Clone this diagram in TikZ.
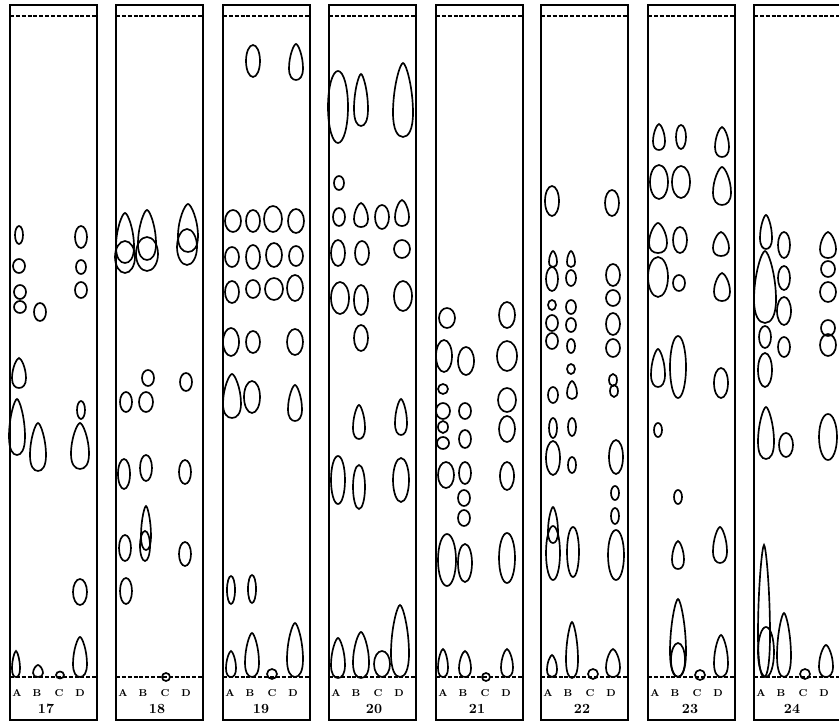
\documentclass[tikz,border=0pt]{standalone}
\begin{document}
\begin{tikzpicture}[x=0.75pt,y=-0.75pt,
  stripbox/.style={line width=1.5pt},
  dashline/.style={line width=1.3pt,dash pattern=on 3pt off 1.4pt},
  spotline/.style={line width=1.25pt},
  lanelab/.style={font=\fontsize{7.5}{8}\selectfont\bfseries,inner sep=0pt},
  numlab/.style={font=\fontsize{10.5}{11}\selectfont\bfseries,inner sep=0pt}]
\useasboundingbox (0,0) rectangle (839,723);
\newcommand\myell[4]{\draw[spotline] (#1,#2) ellipse [x radius=#3, y radius=#4];}
\newcommand\mydrop[4]{\draw[spotline] (#1,{#2-#4}) .. controls ({#1+0.3*#3},{#2-#4}) and ({#1+#3},{#2-0.35*#4}) .. ({#1+#3},{#2+0.35*#4}) .. controls ({#1+#3},{#2+0.8*#4}) and ({#1+0.55*#3},{#2+#4}) .. (#1,{#2+#4}) .. controls ({#1-0.55*#3},{#2+#4}) and ({#1-#3},{#2+0.8*#4}) .. ({#1-#3},{#2+0.35*#4}) .. controls ({#1-#3},{#2-0.35*#4}) and ({#1-0.3*#3},{#2-#4}) .. cycle;}
% strips
\foreach \l/\n/\o in {10/17/36,116/18/41,223/19/38,329/20/45,436/21/41,541/22/41,648/23/42,754/24/38}{
  \draw[stripbox] (\l,5) rectangle ({\l+87},720);
  \draw[dashline] (\l,16) -- ({\l+87},16);
  \draw[dashline] (\l,677) -- ({\l+87},677);
  \node[lanelab] (a\n) at ({\l+7},693) {A};
  \node[lanelab] (b\n) at ({\l+27},693) {B};
  \node[lanelab] (c\n) at ({\l+49},693) {C};
  \node[lanelab] (d\n) at ({\l+70},693) {D};
  \node[numlab] (n\n) at ({\l+\o},709) {\n};
}
% strip 17
\myell{19}{235}{4}{9}
\myell{19}{266}{6}{7}
\myell{20}{292}{6}{7}
\myell{20}{307}{6}{6}
\myell{40}{312}{6}{9}
\myell{81}{237}{6}{11}
\myell{81}{267}{5}{7}
\myell{81}{290}{6}{8}
\mydrop{19}{373}{7}{15}
\mydrop{17}{427}{8}{28}
\mydrop{38}{447}{8}{24}
\myell{81}{410}{4}{9}
\mydrop{80}{446}{9}{23}
\myell{80}{592}{7}{13}
\mydrop{16}{664}{4}{13}
\mydrop{38}{671}{5}{6}
\myell{60}{675}{4}{3.5}
\mydrop{80}{657}{7}{20}
% strip 18
\mydrop{125}{238}{9}{25}
\myell{125}{257}{10}{16}
\mydrop{147}{235}{9}{25}
\myell{147}{254}{11}{17}
\mydrop{188}{228}{10}{24}
\myell{187}{247}{10}{18}
\myell{148}{378}{6}{8}
\myell{146}{402}{7}{10}
\myell{126}{402}{6}{10}
\myell{186}{382}{6}{9}
\myell{124}{474}{6}{15}
\myell{146}{468}{6}{13}
\myell{185}{472}{6}{12}
\mydrop{146}{528}{5}{22}
\myell{145}{546}{5}{15}
\myell{125}{548}{6}{13}
\myell{185}{554}{6}{12}
\myell{126}{591}{6}{13}
\myell{166}{677}{4}{4}
% strip 19
\myell{253}{61}{7}{16}
\mydrop{296}{62}{7}{18}
\myell{233}{221}{8}{11}
\myell{253}{221}{7}{11}
\myell{273}{219}{9}{13}
\myell{296}{221}{8}{12}
\myell{232}{257}{7}{10}
\myell{253}{257}{7}{12}
\myell{274}{255}{8}{12}
\myell{296}{256}{7}{10}
\myell{232}{292}{7}{11}
\myell{253}{289}{7}{9}
\myell{274}{289}{9}{11}
\myell{295}{288}{8}{13}
\myell{231}{342}{8}{14}
\myell{253}{342}{7}{11}
\myell{295}{342}{8}{13}
\mydrop{232}{396}{9}{22}
\myell{252}{397}{8}{16}
\mydrop{295}{403}{7}{18}
\myell{231}{590}{4}{14}
\myell{252}{589}{4}{14}
\mydrop{231}{664}{5}{13}
\mydrop{252}{655}{7}{22}
\myell{272}{674}{5}{5}
\mydrop{295}{650}{8}{27}
% strip 20
\myell{338}{107}{10}{36}
\mydrop{361}{100}{7}{26}
\mydrop{403}{100}{10}{37}
\myell{339}{183}{5}{7}
\myell{339}{217}{6}{9}
\mydrop{361}{215}{7}{12}
\myell{382}{217}{7}{12}
\mydrop{402}{213}{7}{13}
\myell{338}{253}{7}{13}
\myell{362}{253}{7}{12}
\myell{402}{249}{8}{9}
\myell{340}{298}{9}{16}
\myell{361}{300}{7}{15}
\myell{403}{296}{9}{15}
\myell{361}{338}{7}{13}
\mydrop{359}{422}{6}{17}
\mydrop{401}{417}{6}{18}
\myell{338}{480}{7}{24}
\myell{359}{487}{6}{22}
\myell{401}{480}{8}{22}
\mydrop{338}{658}{7}{20}
\mydrop{361}{655}{8}{23}
\myell{382}{664}{8}{13}
\mydrop{400}{641}{9}{36}
% strip 21
\myell{447}{318}{8}{10}
\myell{507}{315}{8}{13}
\myell{444}{356}{8}{16}
\myell{466}{361}{8}{14}
\myell{507}{356}{10}{15}
\myell{443}{389}{5}{5}
\myell{443}{411}{7}{8}
\myell{465}{411}{6}{8}
\myell{507}{400}{9}{12}
\myell{443}{427}{5}{6}
\myell{443}{443}{6}{6}
\myell{465}{439}{6}{9}
\myell{507}{429}{8}{13}
\myell{446}{475}{8}{13}
\myell{465}{473}{6}{11}
\myell{507}{476}{7}{14}
\myell{464}{498}{6}{8}
\myell{464}{518}{6}{8}
\myell{447}{560}{9}{26}
\myell{465}{563}{7}{19}
\myell{507}{558}{8}{25}
\mydrop{443}{663}{5}{14}
\mydrop{465}{664}{6}{13}
\myell{486}{677}{4}{4}
\mydrop{507}{663}{6}{14}
% strip 22
\myell{552}{201}{7}{15}
\myell{612}{203}{7}{13}
\mydrop{553}{259}{4}{8}
\myell{552}{279}{6}{12}
\mydrop{571}{259}{4}{8}
\myell{571}{278}{5}{8}
\myell{613}{275}{7}{11}
\myell{613}{298}{7}{8}
\myell{552}{305}{4}{5}
\myell{552}{323}{6}{8}
\myell{552}{341}{6}{8}
\myell{571}{307}{5}{7}
\myell{571}{325}{5}{7}
\myell{571}{346}{4}{7}
\myell{571}{369}{4}{5}
\mydrop{572}{390}{5}{9}
\myell{613}{324}{7}{11}
\myell{613}{348}{7}{9}
\myell{613}{380}{4}{6}
\myell{614}{391}{4}{6}
\myell{553}{395}{5}{8}
\myell{553}{428}{4}{10}
\myell{572}{427}{4}{9}
\myell{553}{458}{7}{17}
\myell{572}{465}{4}{8}
\myell{616}{457}{7}{17}
\myell{615}{493}{4}{7}
\myell{615}{516}{4}{8}
\mydrop{553}{525}{5}{18}
\myell{553}{553}{7}{27}
\myell{573}{552}{6}{25}
\myell{616}{555}{8}{25}
\mydrop{552}{666}{5}{11}
\mydrop{572}{650}{6}{28}
\myell{593}{674}{5}{5}
\mydrop{613}{663}{7}{14}
% strip 23
\mydrop{659}{137}{6}{13}
\myell{681}{137}{5}{12}
\mydrop{722}{142}{7}{15}
\myell{659}{182}{9}{17}
\myell{681}{182}{9}{16}
\mydrop{722}{186}{9}{19}
\mydrop{658}{238}{9}{15}
\myell{680}{240}{7}{13}
\mydrop{721}{244}{8}{12}
\myell{658}{277}{10}{20}
\myell{679}{283}{6}{8}
\mydrop{722}{287}{8}{14}
\mydrop{658}{368}{7}{19}
\myell{678}{367}{8}{31}
\myell{721}{383}{7}{15}
\myell{658}{430}{4}{7}
\myell{678}{497}{4}{7}
\mydrop{678}{555}{6}{14}
\mydrop{720}{545}{7}{18}
\mydrop{678}{638}{8}{39}
\myell{678}{660}{7}{17}
\myell{700}{675}{5}{5}
\mydrop{721}{656}{7}{21}
% strip 24
\mydrop{766}{232}{6}{17}
\mydrop{765}{287}{11}{36}
\myell{784}{245}{6}{13}
\myell{784}{278}{6}{12}
\myell{784}{311}{7}{14}
\myell{784}{347}{6}{10}
\mydrop{828}{245}{8}{13}
\myell{828}{269}{7}{8}
\myell{828}{292}{8}{10}
\myell{828}{328}{7}{8}
\myell{828}{345}{8}{11}
\myell{765}{337}{6}{11}
\myell{765}{370}{7}{17}
\mydrop{766}{433}{8}{26}
\myell{786}{445}{7}{12}
\myell{828}{437}{9}{23}
\mydrop{764}{611}{6}{66}
\myell{766}{652}{8}{25}
\mydrop{784}{645}{7}{32}
\myell{805}{674}{5}{5}
\mydrop{826}{661}{7}{16}
\end{tikzpicture}
\end{document}
